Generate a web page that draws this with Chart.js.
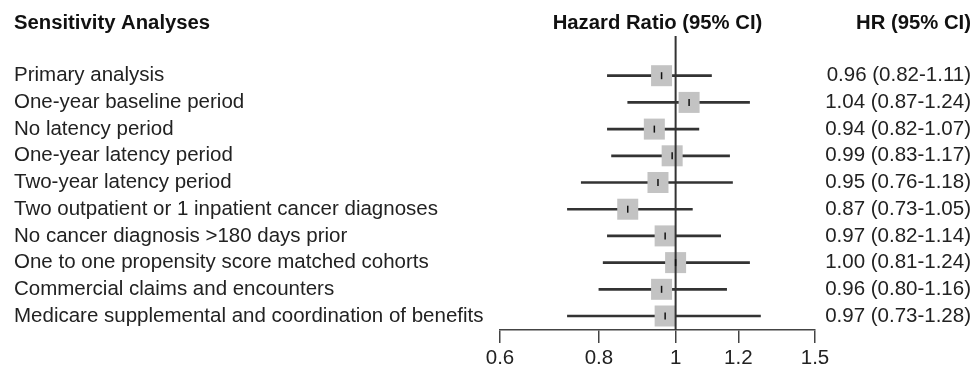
<!DOCTYPE html>
<html>
<head>
<meta charset="utf-8">
<script src="https://cdn.jsdelivr.net/npm/chart.js@4"></script>
<style>
  html, body { margin: 0; padding: 0; background: #fff; }
  #wrap { width: 976px; height: 377px; }
</style>
</head>
<body>
<div id="wrap"><canvas id="forest" width="976" height="377"></canvas></div>
<script>
let analyses = [
    "Primary analysis",
    "One-year baseline period",
    "No latency period",
    "One-year latency period",
    "Two-year latency period",
    "Two outpatient or 1 inpatient cancer diagnoses",
    "No cancer diagnosis >180 days prior",
    "One to one propensity score matched cohorts",
    "Commercial claims and encounters",
    "Medicare supplemental and coordination of benefits"
];
let hr = [0.96, 1.04, 0.94, 0.99, 0.95, 0.87, 0.97, 1.00, 0.96, 0.97];
let ciLow = [0.82, 0.87, 0.82, 0.83, 0.76, 0.73, 0.82, 0.81, 0.80, 0.73];
let ciHigh = [1.11, 1.24, 1.07, 1.17, 1.18, 1.05, 1.14, 1.24, 1.16, 1.28];
let xTicks = [0.6, 0.8, 1, 1.2, 1.5];

let font = "'Liberation Sans', Arial, Helvetica, sans-serif";
let yMin = -1.487, yMax = 9.524;

let hrText = hr.map((v, i) => v.toFixed(2) + " (" + ciLow[i].toFixed(2) + "-" + ciHigh[i].toFixed(2) + ")");
let rows = analyses.map((_, i) => i);

// column headers
let headers = {
    id: 'headers',
    afterDraw(chart) {
        let ctx = chart.ctx;
        let area = chart.chartArea;
        ctx.save();
        ctx.fillStyle = '#111';
        ctx.font = "bold 20.3px " + font;
        ctx.textBaseline = 'middle';
        ctx.textAlign = 'left';
        ctx.fillText("Sensitivity Analyses", 14, 23);
        ctx.textAlign = 'center';
        ctx.fillText("Hazard Ratio (95% CI)", (area.left + area.right) / 2, 23);
        ctx.textAlign = 'right';
        ctx.fillText("HR (95% CI)", 971, 23);
        ctx.restore();
    }
};

let yCommon = {
    type: 'linear',
    min: yMin,
    max: yMax,
    reverse: true,
    offset: false,
    grid: { display: false, offset: false },
    border: { display: false },
    afterBuildTicks: axis => { axis.ticks = rows.map(v => ({ value: v })); }
};

new Chart(document.getElementById("forest"), {
    type: 'scatter',
    data: {
        datasets: [
            {
                type: 'bar',
                indexAxis: 'y',
                data: rows.map(i => ({ x: [ciLow[i], ciHigh[i]], y: i })),
                backgroundColor: '#333',
                borderWidth: 0,
                barThickness: 2,
                order: 4
            },
            {
                type: 'scatter',
                data: rows.map(i => ({ x: hr[i], y: i })),
                pointStyle: 'rect',
                pointRadius: 14.85,
                backgroundColor: '#c3c3c3',
                borderWidth: 0,
                order: 3
            },
            {
                type: 'line',
                data: [{ x: 1, y: yMin }, { x: 1, y: yMax }],
                borderColor: '#333',
                borderWidth: 2,
                pointRadius: 0,
                order: 2
            },
            {
                type: 'scatter',
                data: rows.map(i => ({ x: hr[i], y: i })),
                pointStyle: 'line',
                rotation: 90,
                pointRadius: 3.5,
                borderColor: '#111',
                borderWidth: 1.5,
                order: 1
            }
        ]
    },
    options: {
        responsive: false,
        animation: false,
        events: [],
        layout: { padding: { left: 14, right: 5, top: 36, bottom: 0 } },
        plugins: {
            legend: { display: false },
            tooltip: { enabled: false }
        },
        scales: {
            x: {
                type: 'logarithmic',
                min: 0.6,
                max: 1.5,
                offset: false,
                afterBuildTicks: axis => { axis.ticks = xTicks.map(v => ({ value: v })); },
                afterFit: axis => { axis.height = 47; },
                ticks: {
                    callback: v => String(v),
                    font: { family: font, size: 20.5 },
                    color: '#222',
                    padding: 3,
                    autoSkip: false,
                    maxRotation: 0
                },
                grid: {
                    offset: false,
                    drawOnChartArea: false,
                    drawTicks: true,
                    tickLength: 13,
                    color: '#444',
                    lineWidth: 1.5
                },
                border: { display: true, color: '#444', width: 1.5 }
            },
            y: Object.assign({}, yCommon, {
                position: 'left',
                afterFit: axis => { axis.width = 486; },
                ticks: {
                    callback: v => analyses[v],
                    font: { family: font, size: 20.5 },
                    color: '#222',
                    crossAlign: 'far',
                    padding: 0,
                    autoSkip: false
                }
            }),
            y2: Object.assign({}, yCommon, {
                position: 'right',
                afterFit: axis => { axis.width = 156; },
                ticks: {
                    callback: v => hrText[v],
                    font: { family: font, size: 20.5 },
                    color: '#222',
                    crossAlign: 'far',
                    padding: 0,
                    autoSkip: false
                }
            })
        }
    },
    plugins: [headers]
});
</script>
</body>
</html>
